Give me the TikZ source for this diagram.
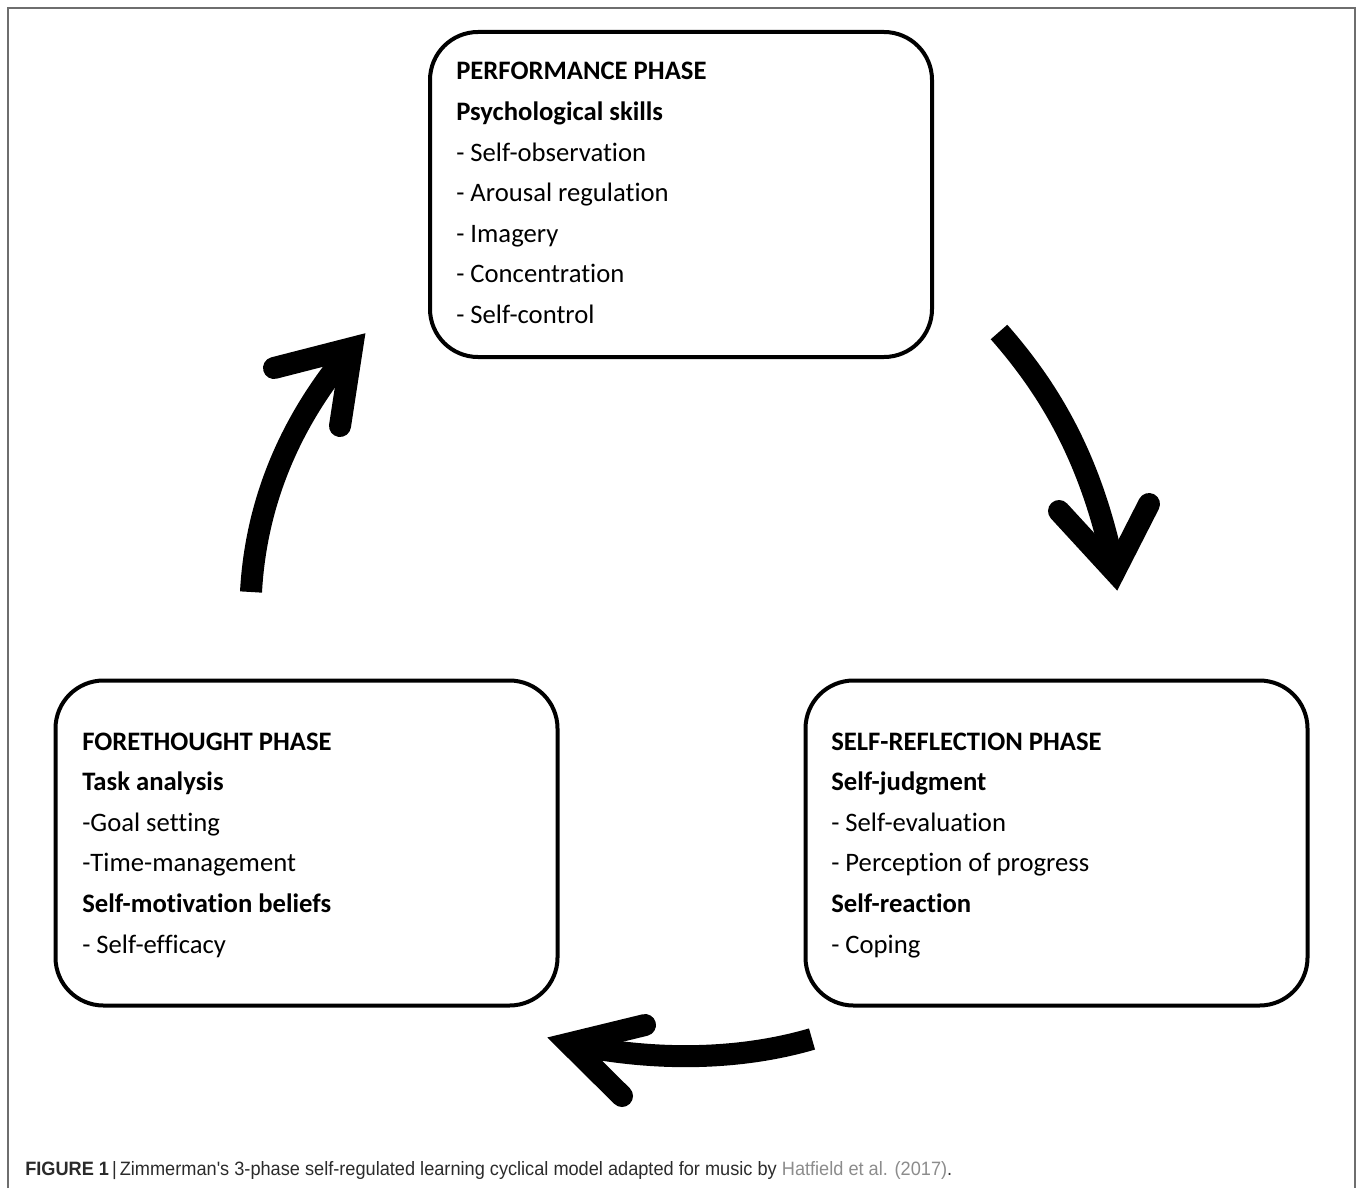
\documentclass[tikz,border=0pt]{standalone}
\usepackage{fontspec}
\setmainfont[Ligatures=NoCommon]{Carlito}
\newfontfamily\capfont{Liberation Sans}
\definecolor{framegray}{HTML}{6E6E6E}
\definecolor{captext}{HTML}{2B2B2B}
\definecolor{linkgray}{HTML}{8C8C8C}
\begin{document}
\begin{tikzpicture}[x=0.75pt,y=-0.75pt,
  phasebox/.style={draw=black, line width=3pt, rounded corners=36pt,
    minimum width=376.5pt, minimum height=243.75pt, inner sep=0pt},
  phasetext/.style={anchor=base west, align=left, inner sep=0pt,
    font=\fontsize{20}{30.45}\selectfont},
  bigarrow/.style={line width=16.5pt, black},
  arrowshaft/.style={bigarrow, line cap=butt},
  arrowhead/.style={bigarrow, line cap=round, line join=miter}]
\useasboundingbox (0,0) rectangle (1358,1188);
% frame (open at the bottom)
\draw[framegray, line width=1.5pt] (8,1188) -- (8,8) -- (1355,8) -- (1355,1188);

% boxes
\node[phasebox] (perf) at (681,194.5) {};
\node[phasebox] (fore) at (306.5,843) {};
\node[phasebox] (refl) at (1056.5,843) {};

% texts (base anchor = baseline of the last line)
\node[phasetext] (perftxt) at (456,323.5) {\textbf{PERFORMANCE PHASE}\\
\textbf{Psychological skills}\\
- Self-observation\\
- Arousal regulation\\
- Imagery\\
- Concentration\\
- Self-control};

\node[phasetext] (foretxt) at (82,953) {\textbf{FORETHOUGHT PHASE}\\
\textbf{Task analysis}\\
-Goal setting\\
-Time-management\\
\textbf{Self-motivation beliefs}\\
- Self-efficacy};

\node[phasetext] (refltxt) at (831,953) {\textbf{SELF-REFLECTION PHASE}\\
\textbf{Self-judgment}\\
- Self-evaluation\\
- Perception of progress\\
\textbf{Self-reaction}\\
- Coping};

% arrow 1: forethought -> performance
\coordinate (a1tail) at (251,592);
\coordinate (a1tip) at (352,348);
\coordinate (a1b1) at (274,368);
\coordinate (a1b2) at (340,426);
\draw[arrowshaft] (a1tail) .. controls (256,500) and (292,418) .. (a1tip);
\draw[arrowhead] (a1b1) -- (a1tip) -- (a1b2);

% arrow 2: performance -> self-reflection
\coordinate (a2tail) at (999,332);
\coordinate (a2tip) at (1114.6,571.5);
\coordinate (a2b1) at (1059,511);
\coordinate (a2b2) at (1149,504);
\draw[arrowshaft] (a2tail) .. controls (1050,390) and (1092,460) .. (a2tip);
\draw[arrowhead] (a2b1) -- (a2tip) -- (a2b2);

% arrow 3: self-reflection -> forethought
\coordinate (a3tail) at (812,1039);
\coordinate (a3tip) at (569,1043.5);
\coordinate (a3b1) at (645,1025);
\coordinate (a3b2) at (622,1096);
\draw[arrowshaft] (a3tail) .. controls (740,1060) and (655,1062) .. (a3tip);
\draw[arrowhead] (a3b1) -- (a3tip) -- (a3b2);

% caption
\node[anchor=base west, inner sep=0pt, xscale=0.94,
  font=\capfont\fontsize{14.5}{17}\selectfont, text=captext] (caption) at (25,1175)
  {\textbf{FIGURE 1}\,|\,Zimmerman's 3-phase self-regulated learning cyclical model adapted for music by \textcolor{linkgray}{Hatfield et al. (2017)}.};
\end{tikzpicture}
\end{document}
